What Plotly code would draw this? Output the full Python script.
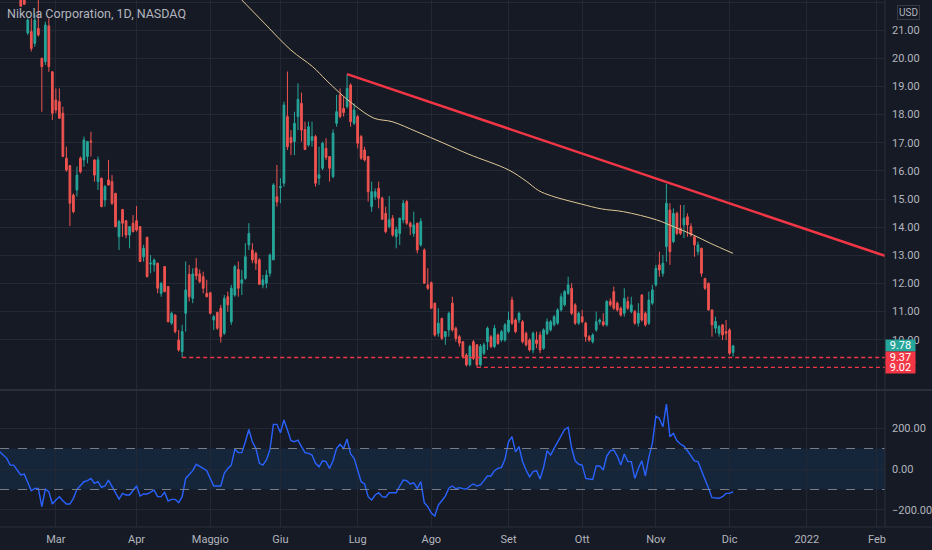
import plotly.graph_objects as go

# Nikola (NKLA) daily candles, bar index 0 = 1 Mar 2021 (trading days only)
TITLE = "Nikola Corporation, 1D, NASDAQ"
FIRST_BAR = -10

OPEN = [
    22.50, 22.30, 20.90, 20.95, 20.53, 21.06, 20.00, 19.88, 21.15, 19.52,
    18.52, 18.46, 18.05, 16.45, 16.19, 15.14, 15.32, 16.45, 16.39, 16.51,
    17.06, 16.39, 15.62, 15.74, 14.97, 15.68, 15.62, 15.20, 13.66, 14.63,
    14.23, 13.72, 14.14, 14.23, 14.02, 12.95, 13.64, 12.69, 12.66, 12.72,
    11.65, 12.60, 11.89, 10.59, 10.88, 9.99, 9.58, 10.94, 12.33, 11.47,
    12.54, 12.34, 12.24, 11.65, 11.67, 10.70, 10.97, 11.12, 10.23, 11.53,
    10.64, 11.59, 12.50, 12.01, 12.18, 13.37, 13.19, 13.07, 12.84, 11.95,
    12.01, 12.36, 12.84, 15.08, 15.40, 15.56, 17.93, 17.19, 17.04, 17.93,
    18.40, 17.47, 16.92, 17.08, 17.22, 15.74, 16.09, 16.80, 16.51, 15.80,
    17.69, 18.70, 18.22, 18.28, 19.05, 17.69, 17.93, 17.22, 16.74, 16.51,
    14.73, 15.08, 15.38, 15.03, 14.49, 14.02, 14.32, 13.66, 13.78, 14.26,
    14.91, 14.14, 13.78, 14.14, 13.37, 13.19, 11.95, 12.03, 11.30, 10.23,
    10.76, 10.11, 10.35, 11.30, 10.41, 10.11, 9.93, 9.46, 9.11, 9.93,
    9.82, 9.11, 9.52, 9.93, 10.11, 9.76, 10.17, 9.99, 9.99, 10.29,
    11.41, 10.70, 10.70, 10.64, 10.23, 9.99, 9.64, 9.99, 10.17, 9.70,
    10.23, 10.35, 10.53, 10.59, 11.06, 11.24, 11.65, 11.83, 11.24, 10.59,
    10.82, 10.59, 10.11, 9.93, 10.35, 10.64, 10.64, 10.53, 11.36, 11.71,
    11.30, 11.12, 10.94, 11.36, 11.00, 11.00, 10.59, 11.59, 10.94, 10.59,
    11.30, 11.95, 12.66, 12.36, 13.31, 14.61, 13.49, 14.49, 13.96, 14.08,
    14.37, 14.02, 13.66, 13.13, 13.25, 12.18, 12.01, 11.06, 10.41, 10.23,
    10.53, 10.29, 10.35, 9.55,
]
HIGH = [
    22.90, 22.60, 21.42, 21.42, 21.60, 22.07, 20.02, 21.30, 21.42, 19.55,
    18.93, 18.93, 18.28, 16.86, 16.20, 15.20, 16.15, 16.51, 17.22, 17.06,
    17.39, 16.41, 16.51, 15.76, 15.50, 16.39, 15.85, 15.22, 14.26, 14.65,
    14.25, 14.04, 14.43, 14.75, 14.04, 13.37, 13.66, 13.01, 12.89, 12.74,
    12.06, 12.62, 11.91, 11.00, 10.90, 10.35, 10.53, 12.78, 12.66, 12.54,
    12.90, 12.50, 12.42, 12.13, 11.70, 10.88, 11.00, 11.24, 11.59, 11.71,
    11.95, 12.66, 12.78, 12.48, 13.43, 14.14, 13.43, 13.13, 12.90, 12.30,
    12.48, 13.07, 15.56, 16.21, 15.74, 18.46, 19.53, 17.45, 18.10, 19.11,
    18.78, 17.75, 17.75, 17.75, 17.28, 16.86, 17.04, 17.16, 16.51, 17.47,
    18.70, 18.93, 18.64, 19.44, 19.11, 18.40, 17.99, 17.28, 16.86, 16.51,
    15.62, 15.38, 15.62, 15.09, 14.73, 15.11, 14.43, 14.02, 14.34, 14.97,
    14.97, 14.20, 14.55, 14.16, 14.32, 13.25, 12.54, 12.07, 11.32, 11.12,
    10.78, 10.31, 11.00, 11.53, 10.47, 10.17, 9.95, 9.52, 9.82, 9.99,
    9.85, 9.85, 9.90, 10.47, 10.17, 10.53, 10.23, 10.35, 10.59, 11.00,
    11.53, 10.76, 11.00, 10.70, 10.29, 10.05, 10.29, 10.29, 10.29, 10.41,
    10.76, 10.70, 10.88, 11.12, 11.65, 11.77, 12.24, 12.01, 11.30, 11.00,
    11.06, 10.64, 10.17, 10.23, 11.00, 10.76, 10.94, 11.41, 11.47, 11.89,
    11.36, 11.18, 11.83, 11.53, 11.53, 11.06, 11.30, 11.62, 11.00, 11.71,
    11.95, 12.66, 13.13, 13.01, 15.54, 14.85, 14.67, 14.55, 14.79, 14.79,
    14.49, 14.14, 13.72, 13.49, 13.27, 12.20, 12.03, 11.08, 10.82, 10.53,
    10.55, 10.70, 10.41, 9.82,
]
LOW = [
    21.83, 21.89, 20.83, 20.24, 20.41, 20.77, 18.10, 19.76, 19.52, 17.81,
    18.05, 17.85, 16.49, 15.97, 14.04, 14.49, 15.09, 15.91, 16.15, 16.27,
    16.51, 15.62, 15.32, 14.71, 14.73, 15.48, 14.79, 14.00, 13.19, 13.66,
    13.61, 13.25, 13.82, 13.84, 12.76, 12.78, 12.22, 12.36, 12.42, 11.65,
    11.53, 11.69, 10.62, 10.53, 10.23, 9.58, 9.37, 10.29, 11.36, 11.30,
    12.13, 12.01, 11.65, 11.51, 10.90, 10.35, 10.35, 9.90, 10.17, 11.00,
    10.53, 11.53, 11.53, 11.59, 12.13, 13.19, 12.72, 12.48, 11.95, 11.83,
    11.83, 12.24, 12.84, 14.73, 14.85, 15.44, 16.74, 16.56, 16.56, 17.45,
    17.04, 16.74, 16.86, 16.86, 15.44, 15.50, 16.03, 16.39, 15.62, 15.74,
    17.57, 17.87, 17.93, 18.22, 17.57, 17.63, 16.80, 16.39, 16.33, 14.91,
    14.55, 14.97, 14.67, 14.26, 13.78, 13.96, 13.66, 13.25, 13.37, 14.14,
    14.08, 13.72, 13.66, 13.07, 13.31, 11.99, 11.77, 11.10, 10.11, 10.11,
    9.99, 9.82, 10.11, 10.29, 9.93, 9.76, 9.34, 9.05, 9.05, 9.28,
    9.02, 9.05, 9.46, 9.64, 9.70, 9.70, 9.82, 9.93, 9.93, 10.23,
    10.53, 10.23, 10.59, 9.87, 9.76, 9.58, 9.52, 9.70, 9.52, 9.64,
    10.17, 10.29, 10.47, 10.53, 11.00, 11.18, 11.59, 10.88, 10.53, 10.53,
    10.59, 9.93, 9.93, 9.87, 10.29, 10.53, 10.47, 10.47, 11.18, 11.06,
    11.00, 10.82, 10.82, 11.06, 10.94, 10.53, 10.47, 10.64, 10.47, 10.53,
    11.24, 11.89, 12.24, 12.24, 12.77, 12.66, 13.43, 13.72, 13.72, 13.61,
    13.66, 13.66, 12.95, 13.01, 12.24, 11.77, 11.04, 10.11, 10.23, 10.11,
    9.99, 9.99, 9.46, 9.40,
]
CLOSE = [
    21.85, 21.92, 21.36, 20.35, 21.36, 20.83, 19.70, 21.18, 19.70, 18.05,
    18.16, 17.87, 16.51, 16.03, 14.85, 14.55, 15.85, 15.97, 17.10, 17.04,
    17.03, 15.85, 16.39, 14.73, 15.44, 15.50, 14.85, 14.02, 14.20, 14.14,
    13.72, 14.02, 13.84, 13.90, 12.78, 13.25, 12.24, 12.72, 12.83, 11.83,
    12.00, 11.71, 10.64, 10.94, 10.29, 9.64, 10.29, 11.77, 11.53, 12.34,
    12.27, 12.07, 11.83, 11.53, 10.94, 10.82, 10.41, 10.11, 11.47, 11.24,
    11.83, 12.60, 11.83, 12.13, 12.95, 13.78, 12.84, 12.72, 11.97, 12.13,
    12.30, 13.01, 15.50, 14.90, 15.44, 18.34, 16.86, 17.00, 17.69, 18.54,
    17.45, 16.76, 17.57, 17.22, 15.56, 15.86, 16.98, 16.48, 16.09, 17.34,
    18.10, 17.93, 18.07, 18.93, 17.75, 18.16, 16.98, 16.45, 16.39, 15.26,
    15.26, 15.26, 15.03, 14.28, 13.84, 14.26, 13.72, 13.92, 14.32, 14.85,
    14.14, 14.02, 14.08, 13.19, 14.20, 12.01, 11.83, 11.12, 10.17, 10.59,
    10.05, 10.29, 10.94, 10.35, 10.05, 9.88, 9.40, 9.11, 9.76, 9.34,
    9.11, 9.76, 9.82, 10.41, 9.76, 10.41, 9.87, 10.29, 10.53, 10.70,
    10.59, 10.29, 10.94, 9.93, 9.82, 9.64, 10.23, 9.87, 9.64, 10.35,
    10.64, 10.64, 10.82, 11.06, 11.53, 11.71, 11.95, 10.94, 10.59, 10.94,
    10.64, 10.11, 9.99, 10.17, 10.64, 10.70, 10.53, 11.36, 11.24, 11.12,
    11.06, 10.88, 11.47, 11.12, 11.24, 10.59, 10.94, 10.70, 10.53, 11.41,
    11.77, 12.54, 12.48, 12.72, 14.85, 13.13, 14.49, 13.78, 13.78, 14.32,
    14.08, 13.72, 13.37, 13.37, 12.36, 11.83, 11.06, 10.53, 10.65, 10.47,
    10.17, 10.23, 9.52, 9.78,
]

# moving average (read at a few bars along the curve)
MA_X = [52, 59.4, 67.0, 73.2, 77.0, 80.8, 85.0, 90.7, 95.8, 102.9, 110.6, 117.7,
        129.1, 134.2, 137.6, 141.3, 149.8, 155.5, 161.8, 171.2, 176.0, 181.7, 186.5, 193]
MA_Y = [22.20, 21.25, 20.29, 19.70, 19.23, 18.78, 18.34, 17.87, 17.75, 17.39, 16.98, 16.59,
        16.03, 15.62, 15.30, 15.11, 14.82, 14.65, 14.55, 14.26, 14.02, 13.72, 13.43, 13.07]

# drawings
TREND_X = [83, 236.3]
TREND_Y = [19.44, 12.98]
SUPPORT_Y = [9.37, 9.02]
SUPPORT_FROM = [36, 120]
LAST_PRICE = 9.78

# CCI in the lower pane
CCI_X = [-16, -14, -13, -12, -11, -10, -9, -8, -7, -6, -5, -4, -3, -2, -1,
         0, 1, 2, 3, 4, 5, 6, 8, 9, 10, 11, 12, 13, 14, 15, 16, 17, 18, 19,
         20, 21, 22, 23, 24, 25, 26, 27, 28, 29, 30, 31, 32, 33, 34, 35, 36, 37, 38, 39,
         40, 41, 42, 43, 44, 45, 46, 47, 48, 49, 50, 51, 52, 53, 54, 55, 56, 57, 58, 59,
         60, 61, 62, 63, 64, 65, 66, 67, 68, 69, 70, 71, 72, 73, 74, 75, 76, 77, 78, 79,
         80, 81, 82, 83, 84, 85, 86, 87, 88, 89, 90, 91, 92, 93, 94, 95, 96, 97, 98, 99,
         100, 101, 102, 103, 104, 105, 106, 107, 108, 109, 110, 111, 112, 113, 114, 115,
         116, 117, 118, 119, 120, 121, 122, 123, 124, 125, 126, 127, 128, 129, 130, 131,
         132, 133, 134, 135, 136, 137, 138, 139, 140, 141, 142, 143, 144, 145, 146, 147,
         148, 149, 150, 151, 152, 153, 154, 155, 156, 157, 158, 159, 160, 161, 162, 163,
         164, 165, 166, 167, 168, 169, 170, 171, 172, 173, 174, 175, 176, 177, 178, 179,
         180, 181, 182, 183, 184, 185, 186, 187, 188, 189, 190, 191, 192, 193]
CCI_V = [84, 52, 19, 19, -5, -29, -25, -70, -106, -95, -95, -184, -99, -111, -171,
         -151, -135, -155, -171, -171, -143, -99, -62, -57, -46, -70, -62, -90, -83, -54, -83, -111, -147, -119,
         -127, -127, -103, -83, -132, -122, -122, -111, -103, -135, -135, -114, -156, -148, -148, -164, -135, -46, -26, -8,
         23, 15, 3, -8, -46, -83, -83, -83, -21, 3, 19, 96, 80, 80, 133, 193, 133, 101, 28, 19,
         44, 93, 218, 218, 177, 239, 190, 138, 133, 141, 109, 80, 76, 68, 28, 11, 40, 36, 3, 40,
         101, 120, 101, 146, 73, 52, -5, -62, -73, -135, -151, -127, -116, -135, -138, -116, -116, -116, -83, -54,
         -57, -73, -67, -94, -62, -164, -184, -215, -229, -176, -155, -132, -94, -83, -96, -91,
         -96, -99, -83, -73, -83, -78, -57, -34, -34, -8, 3, 8, 47, 133, 158, 84,
         109, 36, -5, -38, -13, -8, -49, 8, 89, 68, 101, 133, 166, 193, 203, 101,
         40, 23, 19, -46, -49, -51, 15, 15, -5, 63, 89, 93, 63, 19, 73, 36,
         36, -46, 3, 40, -33, 57, 125, 258, 247, 206, 317, 158, 174, 138, 122, 112,
         89, 63, 40, 36, -5, -51, -94, -140, -140, -143, -135, -119, -119, -111]
CCI_BAND = [-100, 100]

MONTH_BARS = [0, 23, 44, 64, 86, 107, 129, 150, 171, 192, 214, 234]
MONTH_LABELS = ["Mar", "Apr", "Maggio", "Giu", "Lug", "Ago", "Set", "Ott", "Nov", "Dic", "2022", "Feb"]
PRICE_TICKS = list(range(10, 23))
CCI_TICKS = [-200, 0, 200]

BG = "#161a25"
GRID = "#242834"
TEXT = "#b2b5be"
UP = "#26a69a"
DOWN = "#ef5350"
RED = "#f23645"
FONT = "Roboto"

X_RANGE = [-15.92, 236.3]

bars = list(range(FIRST_BAR, FIRST_BAR + len(OPEN)))

fig = go.Figure()

fig.add_trace(go.Candlestick(
    x=bars, open=OPEN, high=HIGH, low=LOW, close=CLOSE,
    increasing=dict(line=dict(color=UP, width=1), fillcolor=UP),
    decreasing=dict(line=dict(color=DOWN, width=1), fillcolor=DOWN),
    whiskerwidth=0, hoverinfo="skip", showlegend=False,
))

fig.add_trace(go.Scatter(x=MA_X, y=MA_Y, mode="lines", line=dict(color="#e0c896", width=1, shape="spline"),
                         hoverinfo="skip", showlegend=False))

fig.add_trace(go.Scatter(x=TREND_X, y=TREND_Y, mode="lines", line=dict(color=RED, width=2.5),
                         hoverinfo="skip", showlegend=False))

for level, start in zip(SUPPORT_Y, SUPPORT_FROM):
    fig.add_trace(go.Scatter(x=[start, X_RANGE[1]], y=[level, level], mode="lines",
                             line=dict(color=RED, width=1.3, dash="4px,3px"),
                             hoverinfo="skip", showlegend=False))

fig.add_trace(go.Scatter(x=CCI_X, y=CCI_V, mode="lines", line=dict(color="#2962ff", width=1.4),
                         xaxis="x2", yaxis="y2", hoverinfo="skip", showlegend=False))

# CCI band and its dashed bounds
fig.add_shape(type="rect", xref="x2 domain", yref="y2", x0=0, x1=1, y0=CCI_BAND[0], y1=CCI_BAND[1],
              fillcolor="rgba(33,150,243,0.10)", line_width=0, layer="below")
for b in CCI_BAND:
    fig.add_shape(type="line", xref="x2 domain", yref="y2", x0=0, x1=1, y0=b, y1=b,
                  line=dict(color="#787b86", width=1, dash="dash"))

# pane separators
fig.add_shape(type="line", xref="paper", yref="paper", x0=0, x1=1.06, y0=0.2600, y1=0.2600,
              line=dict(color="#2a2e39", width=2))
fig.add_shape(type="line", xref="paper", yref="paper", x0=0, x1=1.06, y0=0, y1=0,
              line=dict(color="#2a2e39", width=1))
fig.add_shape(type="line", xref="paper", yref="paper", x0=1, x1=1, y0=0, y1=1,
              line=dict(color="#2a2e39", width=1))

# title and price tags
fig.add_annotation(text=TITLE, xref="paper", yref="paper", x=0.006, y=0.975, xanchor="left", yanchor="middle",
                   showarrow=False, font=dict(family=FONT, size=12.5, color=TEXT))
fig.add_annotation(text="USD", xref="paper", yref="paper", x=1.0265, y=0.977, xanchor="center", yanchor="middle",
                   showarrow=False, font=dict(family=FONT, size=10, color=TEXT),
                   bordercolor="#363a45", borderwidth=1, borderpad=1, bgcolor=BG)
tags = [(LAST_PRICE, UP)] + [(lv, RED) for lv in SUPPORT_Y]
for price, color in tags:
    fig.add_annotation(text="%.2f" % price, xref="paper", yref="y", x=1.0, y=price, xanchor="left",
                       yanchor="middle", showarrow=False, width=29, align="center", height=11,
                       bgcolor=color, borderpad=0, font=dict(family=FONT, size=11, color="#ffffff"))

axis_common = dict(showline=False, zeroline=False, gridcolor=GRID, gridwidth=1,
                   tickfont=dict(family=FONT, size=11, color=TEXT))

fig.update_layout(
    width=932, height=550,
    margin=dict(l=0, r=45, t=0, b=23),
    paper_bgcolor=BG, plot_bgcolor=BG,
    font=dict(family=FONT, color=TEXT),
    showlegend=False,
    xaxis=dict(domain=[0, 1], anchor="y", range=X_RANGE, tickvals=MONTH_BARS, showticklabels=False,
               rangeslider=dict(visible=False), **axis_common),
    xaxis2=dict(domain=[0, 1], anchor="y2", range=X_RANGE, tickvals=MONTH_BARS, ticktext=MONTH_LABELS,
                ticks="", ticklabelstandoff=4, **axis_common),
    yaxis=dict(domain=[0.2619, 1], range=[8.252, 22.071], side="right", tickvals=PRICE_TICKS,
               tickformat=".2f", ticks="", ticklabelstandoff=6, **axis_common),
    yaxis2=dict(domain=[0, 0.258], range=[-283, 380.5], side="right", tickvals=CCI_TICKS,
                tickformat=".2f", ticks="", ticklabelstandoff=6, **axis_common),
)

# drop the browser's default page margin so the chart sits at the window corner
fig.write_html("out.html", config={"displayModeBar": False},
               post_script="document.body.style.margin='0';")
